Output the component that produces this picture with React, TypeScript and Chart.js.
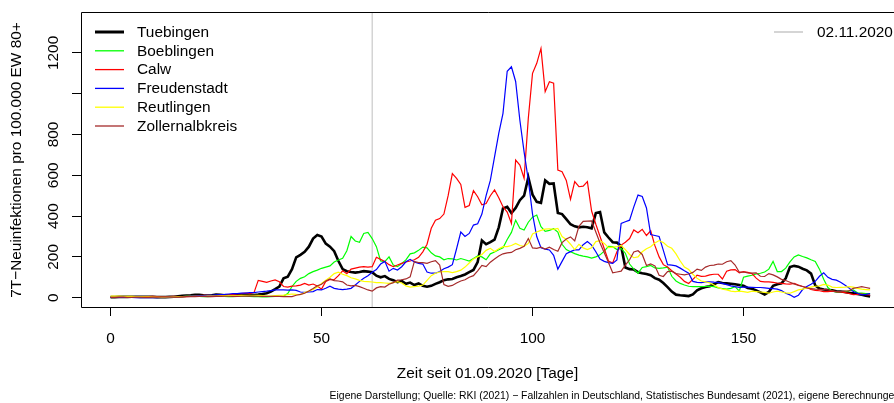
import React, { useEffect, useRef } from "react";
import { Chart, registerables } from "chart.js";

Chart.register(...registerables);

// ---------- data ----------
const DAYS: number[] = Array.from({ length: 181 }, (_, i) => i);

const SERIES_NAMES = ["Tuebingen", "Boeblingen", "Calw", "Freudenstadt", "Reutlingen", "Zollernalbkreis"];
const SERIES_COLORS = ["#000000", "#00FF00", "#FF0000", "#0000FF", "#FFFF00", "#A52A2A"];

const TUEBINGEN = [
  3, 3, 4, 4, 4, 5, 5, 4, 4, 4,
  4, 3, 3, 3, 4, 5, 7, 9, 11, 12,
  14, 14, 12, 11, 12, 15, 14, 12, 11, 12,
  14, 16, 15, 14, 13, 15, 18, 22, 30, 42,
  55, 95, 103, 140, 198, 210, 225, 250, 290, 307,
  300, 265, 250, 228, 180, 140, 130, 126, 123, 126,
  130, 128, 125, 108, 100, 106, 92, 86, 76, 82,
  68, 74, 62, 70, 58, 54, 58, 68, 76, 86,
  90, 92, 100, 106, 114, 125, 136, 175, 280, 262,
  272, 285, 345, 438, 446, 415, 440, 478, 500, 590,
  505, 470, 465, 575, 558, 560, 415, 410, 385, 360,
  350, 345, 348, 345, 340, 415, 420, 320, 295, 272,
  270, 252, 148, 140, 138, 125, 120, 116, 110, 96,
  88, 72, 52, 30, 15, 12, 10, 8, 16, 36,
  46, 52, 56, 66, 76, 72, 70, 68, 66, 62,
  58, 48, 44, 36, 26, 16, 28, 58, 66, 70,
  95, 150, 156, 152, 142, 134, 118, 60, 45, 40,
  38, 36, 32, 30, 28, 24, 22, 18, 14, 10,
  6,
];

const BOEBLINGEN = [
  4, 5, 5, 4, 3, 3, 4, 3, 2, 2,
  2, 2, 3, 3, 4, 4, 5, 5, 6, 6,
  6, 6, 5, 5, 6, 7, 7, 6, 5, 5,
  6, 7, 7, 6, 5, 5, 4, 4, 5, 6,
  6, 8, 20, 55, 80, 95, 103, 118, 128, 135,
  144, 150, 156, 175, 185, 193, 230, 300, 278, 272,
  315, 320, 290, 250, 180, 177, 200, 160, 152, 168,
  185, 215, 220, 232, 248, 244, 220, 205, 200, 186,
  192, 190, 185, 192, 186, 180, 192, 205, 200, 186,
  215, 224, 235, 245, 285, 320, 380, 340, 332, 370,
  395, 405, 348, 325, 330, 338, 322, 262, 236, 225,
  216, 209, 204, 200, 194, 200, 210, 228, 252, 250,
  236, 242, 218, 165, 140, 120, 148, 152, 158, 146,
  144, 146, 150, 105, 82, 70, 62, 56, 54, 54,
  54, 55, 57, 54, 48, 45, 42, 46, 54, 32,
  100, 106, 110, 116, 120, 126, 140, 178, 128, 128,
  145, 176, 200, 210, 202, 195, 186, 178, 140, 90,
  50, 32, 28, 28, 30, 34, 38, 24, 22, 20,
  20,
];

const CALW = [
  3, 3, 4, 4, 5, 4, 3, 3, 4, 5,
  6, 5, 4, 4, 5, 6, 5, 4, 5, 6,
  8, 10, 12, 11, 10, 9, 10, 12, 14, 16,
  18, 20, 22, 20, 25, 85, 80, 75, 82, 87,
  78, 55, 52, 57, 58, 62, 70, 62, 67, 57,
  42, 80, 90, 88, 108, 132, 118, 140, 145, 150,
  152, 150, 152, 198, 188, 177, 162, 152, 160, 168,
  175, 180, 186, 198, 225, 262, 340, 380, 388, 410,
  500, 608, 585, 555, 443, 452, 525, 495, 455, 462,
  500, 528, 490, 446, 420, 364, 675, 650, 585, 880,
  1100, 1149, 1222, 1010, 1059, 1052, 626, 618, 575, 482,
  569, 544, 547, 569, 425, 360, 300, 240, 180, 170,
  225, 258, 272, 290, 332, 318, 335, 305, 328, 255,
  200, 162, 150, 132, 116, 100, 80, 70, 90, 110,
  105, 106, 112, 115, 115, 92, 130, 136, 138, 122,
  128, 124, 118, 96, 80, 78, 78, 75, 72, 70,
  68, 67, 70, 62, 55, 50, 40, 36, 34, 30,
  30, 32, 30, 28, 25, 21, 15, 16, 18, 15,
  14,
];

const FREUDENSTADT = [
  2, 2, 2, 3, 2, 1, 0, 0, 0, 0,
  0, 0, 1, 2, 3, 4, 5, 5, 6, 8,
  8, 10, 10, 12, 12, 14, 15, 16, 18, 20,
  20, 22, 22, 25, 25, 28, 30, 32, 35, 38,
  38, 38, 37, 38, 36, 28, 26, 28, 30, 40,
  38, 46, 56, 46, 42, 40, 42, 46, 62, 80,
  95, 108, 125, 138, 165, 178, 130, 144, 136, 152,
  176, 188, 175, 168, 165, 126, 120, 120, 128, 142,
  150, 162, 240, 322, 300, 315, 356, 362, 410, 500,
  575, 690, 805, 904, 1110, 1132, 1060, 870, 715, 577,
  410, 300, 245, 238, 234, 208, 140, 178, 216, 226,
  234, 234, 260, 275, 258, 225, 190, 178, 172, 168,
  185, 364, 372, 380, 445, 503, 496, 440, 310, 305,
  300, 232, 162, 160, 156, 145, 132, 120, 80, 75,
  74, 78, 78, 76, 75, 70, 64, 58, 54, 51,
  52, 52, 51, 50, 50, 48, 46, 44, 42, 35,
  22, 14, 2, 12, 40, 55, 66, 80, 105, 122,
  100, 90, 86, 76, 62, 48, 30, 22, 14, 16,
  20,
];

const REUTLINGEN = [
  8, 8, 8, 7, 6, 6, 5, 5, 4, 4,
  4, 3, 3, 3, 4, 4, 5, 5, 6, 6,
  6, 7, 7, 8, 8, 8, 9, 9, 10, 10,
  10, 11, 11, 12, 12, 11, 10, 8, 8, 10,
  12, 13, 15, 18, 16, 15, 25, 32, 40, 52,
  70, 85, 100, 118, 125, 115, 108, 98, 92, 85,
  80, 79, 77, 74, 74, 72, 70, 74, 79, 72,
  58, 52, 54, 57, 62, 85, 108, 120, 126, 128,
  128, 123, 128, 135, 150, 170, 190, 200, 212, 232,
  242, 226, 240, 250, 250, 256, 266, 256, 252, 266,
  312, 322, 330, 336, 338, 335, 340, 300, 285, 262,
  236, 262, 244, 236, 245, 275, 280, 266, 245, 248,
  250, 256, 236, 212, 196, 200, 225, 240, 250, 268,
  280, 270, 252, 242, 215, 180, 150, 138, 115, 95,
  82, 78, 72, 62, 50, 42, 38, 32, 30, 32,
  30, 26, 32, 30, 28, 26, 22, 28, 32, 28,
  24, 22, 30, 38, 42, 48, 52, 56, 58, 65,
  62, 52, 50, 51, 52, 54, 52, 46, 42, 40,
  38,
];

const ZOLLERNALBKREIS = [
  2, 2, 3, 3, 2, 2, 3, 3, 2, 2,
  3, 3, 4, 4, 4, 3, 3, 4, 5, 5,
  5, 6, 6, 5, 5, 6, 6, 7, 7, 6,
  6, 7, 8, 8, 7, 7, 6, 6, 6, 7,
  6, 5, 5, 5, 12, 16, 22, 33, 45, 58,
  66, 82, 92, 84, 82, 78, 62, 58, 60, 54,
  46, 38, 32, 48, 54, 52, 66, 74, 86, 88,
  92, 102, 178, 172, 172, 168, 176, 182, 160, 64,
  56, 60, 72, 82, 88, 100, 108, 132, 158, 152,
  174, 190, 204, 215, 220, 222, 235, 242, 252, 290,
  244, 242, 248, 238, 248, 236, 228, 270, 288, 298,
  278, 350, 374, 375, 376, 322, 268, 220, 172, 122,
  126, 130, 160, 186, 224, 230, 212, 158, 166, 156,
  110, 104, 128, 130, 118, 115, 112, 116, 124, 140,
  134, 150, 158, 160, 165, 164, 176, 182, 160, 125,
  126, 122, 120, 122, 105, 104, 118, 112, 102, 90,
  84, 76, 68, 60, 55, 48, 44, 42, 41, 40,
  38, 34, 30, 30, 32, 34, 46, 50, 54, 50,
  46,
];

const SERIES_VALUES = [TUEBINGEN, BOEBLINGEN, CALW, FREUDENSTADT, REUTLINGEN, ZOLLERNALBKREIS];

const X_TICKS = [0, 50, 100, 150];
const X_TICK_LABELS = ["0", "50", "100", "150"];
const Y_TICKS = [0, 200, 400, 600, 800, 1000, 1200];
const Y_TICK_LABELS = ["0", "200", "400", "600", "800", "", "1200"];

const MARKER_DAY = 62;
const MARKER_LABEL = "02.11.2020";

const X_TITLE = "Zeit seit 01.09.2020 [Tage]";
const Y_TITLE = "7T\u2212Neuinfektionen pro 100.000 EW 80+";
const FOOTNOTE =
  "Eigene Darstellung; Quelle: RKI (2021) \u2212 Fallzahlen in Deutschland, Statistisches Bundesamt (2021), eigene Berechnungen";

// axis ranges
const X_MIN = -7;
const X_MAX = 185.66;
const Y_MIN = -45.6;
const Y_MAX = 1395.6;

const FONT = "'Liberation Sans', Arial, Helvetica, sans-serif";
const FONT_SIZE = 15.4;

const overlayPlugin = {
  id: "overlay",
  afterDraw(chart: any) {
    const { ctx, chartArea: a } = chart;
    ctx.save();
    // box (left, top, bottom; right side falls outside the page)
    ctx.strokeStyle = "#000";
    ctx.lineWidth = 1;
    ctx.beginPath();
    ctx.moveTo(a.right + 20, a.top - 0.5);
    ctx.lineTo(a.left + 0.5, a.top - 0.5);
    ctx.lineTo(a.left + 0.5, a.bottom + 0.5);
    ctx.lineTo(a.right + 20, a.bottom + 0.5);
    ctx.stroke();

    // left legend
    ctx.font = `${FONT_SIZE}px ${FONT}`;
    ctx.textBaseline = "middle";
    ctx.textAlign = "left";
    const rowY0 = 32;
    const rowStep = 18.8;
    SERIES_NAMES.forEach((name, i) => {
      const y = rowY0 + i * rowStep;
      ctx.strokeStyle = SERIES_COLORS[i];
      ctx.lineWidth = i === 0 ? 3 : 1.3;
      ctx.beginPath();
      ctx.moveTo(95, y);
      ctx.lineTo(124, y);
      ctx.stroke();
      ctx.fillStyle = "#000";
      ctx.fillText(name, 137, y + 0.5);
    });

    // right legend
    ctx.strokeStyle = "#BEBEBE";
    ctx.lineWidth = 1.3;
    ctx.beginPath();
    ctx.moveTo(774, 32);
    ctx.lineTo(803, 32);
    ctx.stroke();
    ctx.fillStyle = "#000";
    ctx.fillText(MARKER_LABEL, 817, 32.5);

    // footnote
    ctx.font = `10.4px ${FONT}`;
    ctx.textAlign = "right";
    ctx.fillText(FOOTNOTE, 900, 396);
    ctx.restore();
  },
};

export default function App() {
  const ref = useRef<HTMLCanvasElement | null>(null);

  useEffect(() => {
    document.body.style.margin = "0";
    document.body.style.overflow = "hidden";
    const canvas = ref.current;
    if (!canvas) return;

    const datasets: any[] = SERIES_NAMES.map((name, i) => ({
      label: name,
      data: DAYS.map((d, j) => ({ x: d, y: SERIES_VALUES[i][j] })),
      borderColor: SERIES_COLORS[i],
      backgroundColor: SERIES_COLORS[i],
      borderWidth: i === 0 ? 2.6 : 1.2,
      pointRadius: 0,
      tension: 0,
      fill: false,
      order: SERIES_NAMES.length - i,
    }));
    datasets.push({
      label: MARKER_LABEL,
      data: [
        { x: MARKER_DAY, y: Y_MIN },
        { x: MARKER_DAY, y: Y_MAX },
      ],
      borderColor: "#BEBEBE",
      borderWidth: 1,
      pointRadius: 0,
      fill: false,
      order: 10,
    });

    const chart = new Chart(canvas, {
      type: "line",
      data: { datasets },
      plugins: [overlayPlugin],
      options: {
        responsive: false,
        devicePixelRatio: 1,
        animation: false,
        layout: { padding: { top: 13, left: 0, right: 0, bottom: 0 } },
        plugins: {
          legend: { display: false },
          tooltip: { enabled: false },
        },
        scales: {
          x: {
            type: "linear",
            min: X_MIN,
            max: X_MAX,
            afterBuildTicks: (s: any) => {
              s.ticks = X_TICKS.map((v) => ({ value: v }));
            },
            afterFit: (s: any) => {
              s.height = 96;
            },
            border: { display: false },
            grid: {
              display: true,
              drawOnChartArea: false,
              drawTicks: true,
              tickLength: 9,
              tickColor: "#000",
              color: "#000",
            },
            ticks: {
              autoSkip: false,
              maxRotation: 0,
              minRotation: 0,
              padding: 14,
              color: "#000",
              font: { family: FONT, size: FONT_SIZE },
              callback: (v: any) => X_TICK_LABELS[X_TICKS.indexOf(Number(v))] ?? "",
            },
            title: {
              display: true,
              text: X_TITLE,
              color: "#000",
              font: { family: FONT, size: FONT_SIZE },
              padding: { top: 0, bottom: 20 },
            },
          },
          y: {
            type: "linear",
            min: Y_MIN,
            max: Y_MAX,
            afterBuildTicks: (s: any) => {
              s.ticks = Y_TICKS.map((v) => ({ value: v }));
            },
            afterFit: (s: any) => {
              s.width = 81;
            },
            border: { display: false },
            grid: {
              display: true,
              drawOnChartArea: false,
              drawTicks: true,
              tickLength: 9,
              tickColor: "#000",
              color: "#000",
            },
            ticks: {
              autoSkip: false,
              minRotation: 90,
              maxRotation: 90,
              crossAlign: "center",
              padding: 1,
              color: "#000",
              font: { family: FONT, size: FONT_SIZE },
              callback: (v: any) => Y_TICK_LABELS[Y_TICKS.indexOf(Number(v))] ?? "",
            },
            title: {
              display: true,
              text: Y_TITLE,
              color: "#000",
              font: { family: FONT, size: FONT_SIZE },
              padding: { top: 8, bottom: 0 },
            },
          },
        },
      } as any,
    });

    return () => chart.destroy();
  }, []);

  return <canvas ref={ref} width={894} height={403} style={{ display: "block" }} />;
}
